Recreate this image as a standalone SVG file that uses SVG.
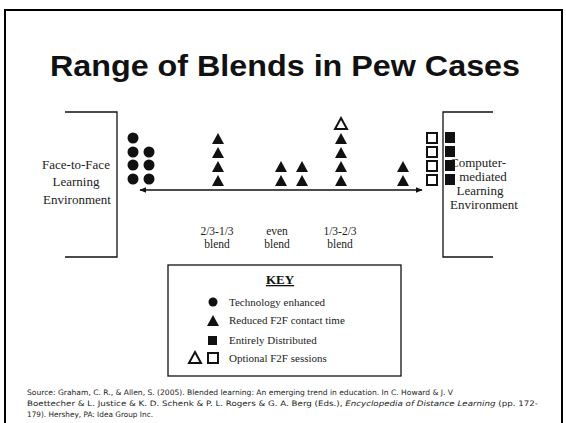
<svg xmlns="http://www.w3.org/2000/svg" width="566" height="423" viewBox="0 0 566 423">
  <style>
    .frame { fill: none; stroke: #000; stroke-width: 2; }
    .line { fill: none; stroke: #111; stroke-width: 1.3; }
    .title { font-family: "Liberation Sans", Arial, sans-serif; font-weight: bold; font-size: 30px; fill: #111; }
    .lbl { font-family: "Liberation Serif", "Times New Roman", serif; font-size: 13px; fill: #222; text-anchor: middle; }
    .blend { font-family: "Liberation Serif", "Times New Roman", serif; font-size: 11.5px; fill: #222; text-anchor: middle; }
    .key { font-family: "Liberation Serif", "Times New Roman", serif; font-size: 11px; fill: #222; }
    .keyhead { font-family: "Liberation Serif", "Times New Roman", serif; font-size: 13px; font-weight: bold; fill: #111; text-anchor: middle; text-decoration: underline; }
    .src { font-family: "DejaVu Sans", Verdana, sans-serif; font-size: 7.5px; fill: #222; }
    .dot { fill: #111; }
    .tri { fill: #111; }
    .otri { fill: #fff; stroke: #111; stroke-width: 2; }
    .sq { fill: #111; }
    .osq { fill: #fff; stroke: #111; stroke-width: 2; }
  </style>
  <defs>
    <path id="t" d="M0,-6 L6,5 L-6,5 Z"/>
    <marker id="ah" viewBox="0 0 10 10" refX="9" refY="5" markerWidth="7" markerHeight="7" orient="auto-start-reverse" markerUnits="userSpaceOnUse">
      <path d="M0,1 L10,5 L0,9 Z" fill="#111"/>
    </marker>
  </defs>

  <rect width="566" height="423" fill="#fff"/>
  <rect class="frame" x="5" y="10" width="557" height="418"/>

  <text class="title" x="50" y="76" textLength="470" lengthAdjust="spacingAndGlyphs">Range of Blends in Pew Cases</text>

  <!-- end-point environments -->
  <g id="face-to-face">
    <path class="line" d="M65,112 H117 V257 H65"/>
    <text class="lbl" x="76" y="169">Face-to-Face</text>
    <text class="lbl" x="76" y="186">Learning</text>
    <text class="lbl" x="77" y="204">Environment</text>
  </g>
  <g id="computer-mediated">
    <path class="line" d="M493,112 H443 V257 H493"/>
    <text class="lbl" x="478" y="167">Computer-</text>
    <text class="lbl" x="483" y="181">mediated</text>
    <text class="lbl" x="480" y="195">Learning</text>
    <text class="lbl" x="484" y="209">Environment</text>
  </g>

  <!-- continuum axis -->
  <g id="connectors">
    <line class="line" x1="140" y1="190" x2="422" y2="190" marker-start="url(#ah)" marker-end="url(#ah)"/>
  </g>

  <!-- technology enhanced cases -->
  <g id="circles">
    <circle class="dot" cx="133" cy="138" r="5.5"/>
    <circle class="dot" cx="133" cy="152" r="5.5"/>
    <circle class="dot" cx="133" cy="165" r="5.5"/>
    <circle class="dot" cx="133" cy="179" r="5.5"/>
    <circle class="dot" cx="149" cy="152" r="5.5"/>
    <circle class="dot" cx="149" cy="165" r="5.5"/>
    <circle class="dot" cx="149" cy="179" r="5.5"/>
  </g>

  <!-- reduced contact time cases -->
  <g id="triangles">
    <use href="#t" class="tri" x="218" y="139"/>
    <use href="#t" class="tri" x="218" y="153"/>
    <use href="#t" class="tri" x="218" y="167"/>
    <use href="#t" class="tri" x="218" y="181"/>
    <use href="#t" class="tri" x="281" y="167"/>
    <use href="#t" class="tri" x="281" y="181"/>
    <use href="#t" class="tri" x="302" y="167"/>
    <use href="#t" class="tri" x="302" y="181"/>
    <use href="#t" class="otri" x="341" y="124"/>
    <use href="#t" class="tri" x="341" y="139"/>
    <use href="#t" class="tri" x="341" y="153"/>
    <use href="#t" class="tri" x="341" y="167"/>
    <use href="#t" class="tri" x="341" y="181"/>
    <use href="#t" class="tri" x="403" y="167"/>
    <use href="#t" class="tri" x="403" y="181"/>
  </g>

  <!-- distributed cases -->
  <g id="squares">
    <rect class="osq" x="427" y="133" width="10" height="10"/>
    <rect class="osq" x="427" y="147" width="10" height="10"/>
    <rect class="osq" x="427" y="161" width="10" height="10"/>
    <rect class="osq" x="427" y="175" width="10" height="10"/>
    <rect class="sq" x="445" y="132" width="10" height="11"/>
    <rect class="sq" x="445" y="146" width="10" height="11"/>
    <rect class="sq" x="445" y="160" width="10" height="11"/>
    <rect class="sq" x="445" y="174" width="10" height="11"/>
  </g>

  <g id="blend-labels">
    <text class="blend" x="217" y="235">2/3-1/3</text>
    <text class="blend" x="217" y="248">blend</text>
    <text class="blend" x="277" y="235">even</text>
    <text class="blend" x="277" y="248">blend</text>
    <text class="blend" x="340" y="235">1/3-2/3</text>
    <text class="blend" x="340" y="248">blend</text>
  </g>

  <!-- legend -->
  <g id="key">
    <rect class="line" x="168" y="265" width="233" height="111"/>
    <text class="keyhead" x="280" y="284">KEY</text>
    <circle class="dot" cx="213" cy="302" r="4.5"/>
    <text class="key" x="229" y="306">Technology enhanced</text>
    <use href="#t" class="tri" x="213" y="321"/>
    <text class="key" x="229" y="324">Reduced F2F contact time</text>
    <rect class="sq" x="208" y="336" width="9" height="9"/>
    <text class="key" x="229" y="344">Entirely Distributed</text>
    <use href="#t" class="otri" x="195" y="358"/>
    <rect class="osq" x="208" y="353" width="10" height="10"/>
    <text class="key" x="229" y="362">Optional F2F sessions</text>
  </g>

  <g id="source">
    <text class="src" x="27" y="395" textLength="426" lengthAdjust="spacingAndGlyphs">Source: Graham, C. R., &amp; Allen, S. (2005). Blended learning: An emerging trend in education. In C. Howard &amp; J. V</text>
    <text class="src" x="27" y="406" textLength="511" lengthAdjust="spacingAndGlyphs">Boettecher &amp; L. Justice &amp; K. D. Schenk &amp; P. L. Rogers &amp; G. A. Berg (Eds.), <tspan font-style="italic">Encyclopedia of Distance Learning</tspan> (pp. 172-</text>
    <text class="src" x="27" y="417" textLength="126" lengthAdjust="spacingAndGlyphs">179). Hershey, PA: Idea Group Inc.</text>
  </g>
</svg>
